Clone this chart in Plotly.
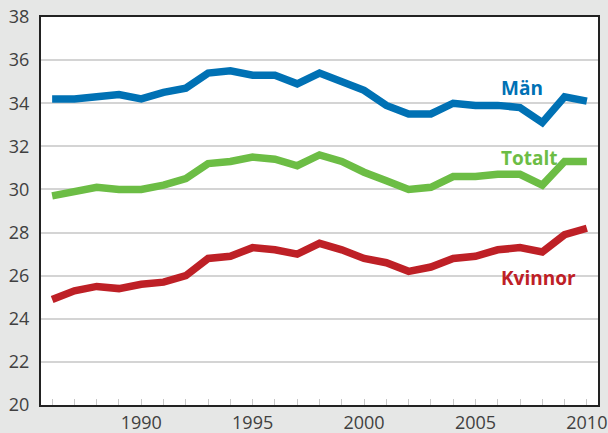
import plotly.graph_objects as go

years = list(range(1986, 2011))
man = [34.2, 34.2, 34.3, 34.4, 34.2, 34.5, 34.7, 35.4, 35.5, 35.3, 35.3, 34.9, 35.4,
       35.0, 34.6, 33.9, 33.5, 33.5, 34.0, 33.9, 33.9, 33.8, 33.1, 34.3, 34.1]
totalt = [29.7, 29.9, 30.1, 30.0, 30.0, 30.2, 30.5, 31.2, 31.3, 31.5, 31.4, 31.1, 31.6,
          31.3, 30.8, 30.4, 30.0, 30.1, 30.6, 30.6, 30.7, 30.7, 30.2, 31.3, 31.3]
kvinnor = [24.9, 25.3, 25.5, 25.4, 25.6, 25.7, 26.0, 26.8, 26.9, 27.3, 27.2, 27.0, 27.5,
           27.2, 26.8, 26.6, 26.2, 26.4, 26.8, 26.9, 27.2, 27.3, 27.1, 27.9, 28.2]
series_names = ["Män", "Totalt", "Kvinnor"]
colors = ["#0071b4", "#6cbd45", "#be2026"]
label_pos = [(2006.05, 34.7), (2006.05, 31.45), (2006.05, 25.9)]
y_ticks = list(range(20, 39, 2))
x_labels = [str(y) if y % 5 == 0 else "" for y in years]

fig = go.Figure()
for name, vals, col in zip(series_names, [man, totalt, kvinnor], colors):
    fig.add_trace(go.Scatter(x=years, y=vals, mode="lines", name=name,
                             line=dict(color=col, width=7.5), showlegend=False))

for name, col, (lx, ly) in zip(series_names, colors, label_pos):
    fig.add_annotation(x=lx, y=ly, text="<b>%s</b>" % name, showarrow=False,
                       xanchor="left", yanchor="middle",
                       font=dict(family="Open Sans", size=19, color=col))

fig.update_layout(
    width=608, height=433,
    margin=dict(l=41, r=10, t=17, b=28, autoexpand=False),
    paper_bgcolor="#e6e7e6", plot_bgcolor="white",
    font=dict(family="Open Sans", size=18, color="#404040"),
)
fig.update_xaxes(range=[1985.5, 2010.5], tickvals=years, ticktext=x_labels,
                 ticks="inside", ticklen=6, tickcolor="#c8c8c8", tickwidth=1,
                 showgrid=False, zeroline=False, automargin=False,
                 showline=True, linecolor="#222", linewidth=2, mirror=True)
fig.update_yaxes(range=[20, 38], tickvals=y_ticks, ticks="",
                 showgrid=True, gridcolor="#d4d4d4", gridwidth=1.5, zeroline=False,
                 showline=True, linecolor="#222", linewidth=2, mirror=True,
                 automargin=False, ticklabelstandoff=6)

fig.write_html("out.html", config={"displayModeBar": False},
               post_script="document.body.style.margin='0';document.body.style.padding='0';"
                           "document.body.style.overflow='hidden';")
